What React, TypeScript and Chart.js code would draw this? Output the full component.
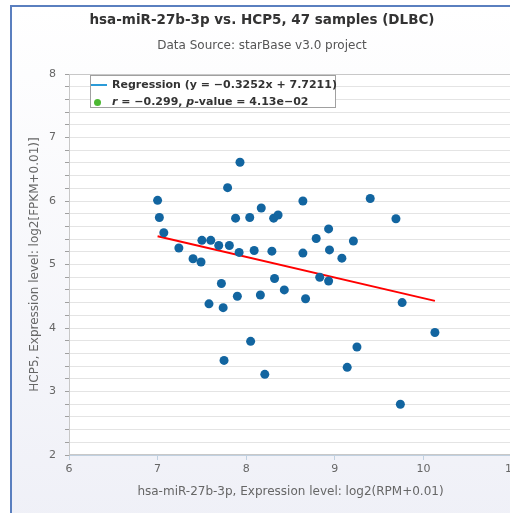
import React, { useEffect, useRef } from "react";
import { Chart, registerables } from "chart.js";

Chart.register(...registerables);

const TITLE = "hsa-miR-27b-3p vs. HCP5, 47 samples (DLBC)";
const SUBTITLE = "Data Source: starBase v3.0 project";
const X_TITLE = "hsa-miR-27b-3p, Expression level: log2(RPM+0.01)";
const Y_TITLE = "HCP5, Expression level: log2[FPKM+0.01)]";
const LEGEND_REGRESSION = "Regression (y = −0.3252x + 7.7211)";

// miRNA expression (x) and HCP5 expression (y), one entry per sample
const MIR_VALUES = [
  7.0, 7.02, 7.07, 7.24, 7.4, 7.49, 7.5, 7.6, 7.69, 7.81, 7.79, 7.93, 7.88, 7.92, 8.04, 8.09,
  8.17, 8.29, 8.31, 8.36, 8.64, 8.64, 8.79, 8.93, 8.94, 7.72, 7.58, 7.74, 7.9, 8.16, 8.32, 8.43,
  8.67, 8.83, 8.93, 8.05, 7.75, 8.21, 9.4, 9.69, 9.21, 9.08, 9.76, 10.13, 9.25, 9.14, 9.74,
];
const HCP5_VALUES = [
  6.01, 5.74, 5.5, 5.26, 5.09, 5.04, 5.38, 5.38, 5.3, 5.3, 6.21, 6.61, 5.73, 5.19, 5.74, 5.22,
  5.89, 5.21, 5.73, 5.78, 6.0, 5.18, 5.41, 5.56, 5.23, 4.7, 4.38, 4.32, 4.5, 4.52, 4.78, 4.6,
  4.46, 4.8, 4.74, 3.79, 3.49, 3.27, 6.04, 5.72, 5.37, 5.1, 4.4, 3.93, 3.7, 3.38, 2.8,
];

// regression y = SLOPE * x + INTERCEPT, drawn over the x-range of the samples
const SLOPE = -0.3252;
const INTERCEPT = 7.7211;
const REGRESSION_X = [7.0, 10.13];

const X_TICKS = [6, 7, 8, 9, 10, 11];
const Y_TICKS = [2, 3, 4, 5, 6, 7, 8];

const FONT = "'DejaVu Sans', sans-serif";

const plotAreaPlugin = {
  id: "plotArea",
  beforeDraw(chart: any) {
    const { ctx, chartArea } = chart;
    if (!chartArea) return;
    ctx.save();
    ctx.fillStyle = "#ffffff";
    ctx.fillRect(chartArea.left, chartArea.top, chartArea.width, chartArea.height);
    ctx.restore();
  },
  beforeDatasetsDraw(chart: any) {
    const { ctx, chartArea } = chart;
    ctx.save();
    ctx.strokeStyle = "#c8c8c8";
    ctx.lineWidth = 1;
    ctx.strokeRect(chartArea.left + 0.5, chartArea.top + 0.5, chartArea.width - 1, chartArea.height - 1);
    ctx.restore();
  },
};

export default function App() {
  const ref = useRef<HTMLCanvasElement>(null);

  useEffect(() => {
    if (!ref.current) return;
    const points = MIR_VALUES.map((x, i) => ({ x, y: HCP5_VALUES[i] }));
    const regression = REGRESSION_X.map((x) => ({ x, y: SLOPE * x + INTERCEPT }));

    const chart = new Chart(ref.current, {
      type: "scatter",
      data: {
        datasets: [
          {
            label: "Regression",
            data: regression,
            showLine: true,
            borderColor: "#ff0000",
            borderWidth: 2,
            pointRadius: 0,
            pointHoverRadius: 0,
            order: 2,
          } as any,
          {
            label: "Samples",
            data: points,
            backgroundColor: "#1265a0",
            borderWidth: 0,
            pointRadius: 4.5,
            order: 1,
          },
        ],
      },
      options: {
        responsive: false,
        animation: false,
        devicePixelRatio: 1,
        layout: { padding: { left: 0, right: 13, top: 0, bottom: 28 } },
        plugins: {
          legend: { display: false },
          tooltip: { enabled: false },
          title: {
            display: true,
            text: TITLE,
            color: "#333333",
            font: { family: FONT, size: 13.5, weight: "bold", lineHeight: 1.2 },
            padding: { top: 5.6, bottom: 0 },
          },
          subtitle: {
            display: true,
            text: SUBTITLE,
            color: "#555555",
            font: { family: FONT, size: 12, lineHeight: 1.2 },
            padding: { top: 9.7, bottom: 21.1 },
          },
        },
        scales: {
          x: {
            type: "linear",
            min: X_TICKS[0],
            max: X_TICKS[X_TICKS.length - 1],
            afterFit: (s: any) => {
              s.height = 44;
            },
            afterBuildTicks: (s: any) => {
              s.ticks = X_TICKS.map((v) => ({ value: v }));
            },
            ticks: {
              color: "#666666",
              font: { family: FONT, size: 11 },
              padding: 3,
              maxRotation: 0,
            },
            grid: {
              drawOnChartArea: false,
              tickLength: 5,
              tickColor: "#c0d0e0",
            },
            border: { color: "#c0d0e0", width: 1 },
            title: {
              display: true,
              text: X_TITLE,
              color: "#666666",
              font: { family: FONT, size: 12, lineHeight: 1.2 },
              padding: { top: 0, bottom: 0 },
            },
          },
          y: {
            type: "linear",
            min: Y_TICKS[0],
            max: Y_TICKS[Y_TICKS.length - 1],
            afterFit: (s: any) => {
              s.width = 57;
            },
            ticks: {
              stepSize: 0.2,
              autoSkip: false,
              color: "#666666",
              font: { family: FONT, size: 11 },
              padding: 9,
              callback: (v: any) => {
                const r = Math.round(Number(v) * 1000) / 1000;
                return Y_TICKS.includes(r) ? String(r) : "";
              },
            },
            grid: {
              color: "#e4e4e4",
              lineWidth: 1,
              tickLength: 4,
              tickColor: "#a0a0a0",
            },
            border: { color: "#c0c0c0", width: 1 },
            title: {
              display: true,
              text: Y_TITLE,
              color: "#666666",
              font: { family: FONT, size: 12, lineHeight: 1.2 },
              padding: { top: 16, bottom: 0 },
            },
          },
        },
      },
      plugins: [plotAreaPlugin],
    });
    return () => chart.destroy();
  }, []);

  const legendText: React.CSSProperties = {
    position: "absolute",
    left: 21,
    height: 14,
    lineHeight: "14px",
    fontFamily: FONT,
    fontWeight: "bold",
    fontSize: 11,
    color: "#333333",
    whiteSpace: "nowrap",
  };

  return (
    <div
      style={{
        position: "fixed",
        left: 0,
        top: 0,
        width: 510,
        height: 513,
        overflow: "hidden",
        background: "#ffffff",
      }}
    >
      <div
        style={{
          position: "absolute",
          left: 10,
          top: 5,
          width: 513,
          height: 520,
          borderLeft: "2px solid #5a7fbf",
          borderTop: "2px solid #5a7fbf",
          background: "linear-gradient(180deg, #ffffff 0%, #eff0f7 100%)",
        }}
      >
        <canvas ref={ref} width={513} height={520} style={{ display: "block" }} />
        <div
          style={{
            position: "absolute",
            left: 78,
            top: 68,
            width: 246,
            height: 33,
            boxSizing: "border-box",
            border: "1px solid #a0a0a0",
            background: "#ffffff",
          }}
        >
          <div
            style={{
              position: "absolute",
              left: 0,
              top: 7.7,
              width: 16,
              height: 2,
              background: "#2b9bd8",
            }}
          />
          <div style={{ ...legendText, top: 1.7 }}>{LEGEND_REGRESSION}</div>
          <div
            style={{
              position: "absolute",
              left: 3.2,
              top: 22.8,
              width: 7,
              height: 7,
              borderRadius: "50%",
              background: "#4cb832",
            }}
          />
          <div style={{ ...legendText, top: 19.3 }}>
            <i>r</i> = −0.299, <i>p</i>-value = 4.13e−02
          </div>
        </div>
      </div>
    </div>
  );
}
